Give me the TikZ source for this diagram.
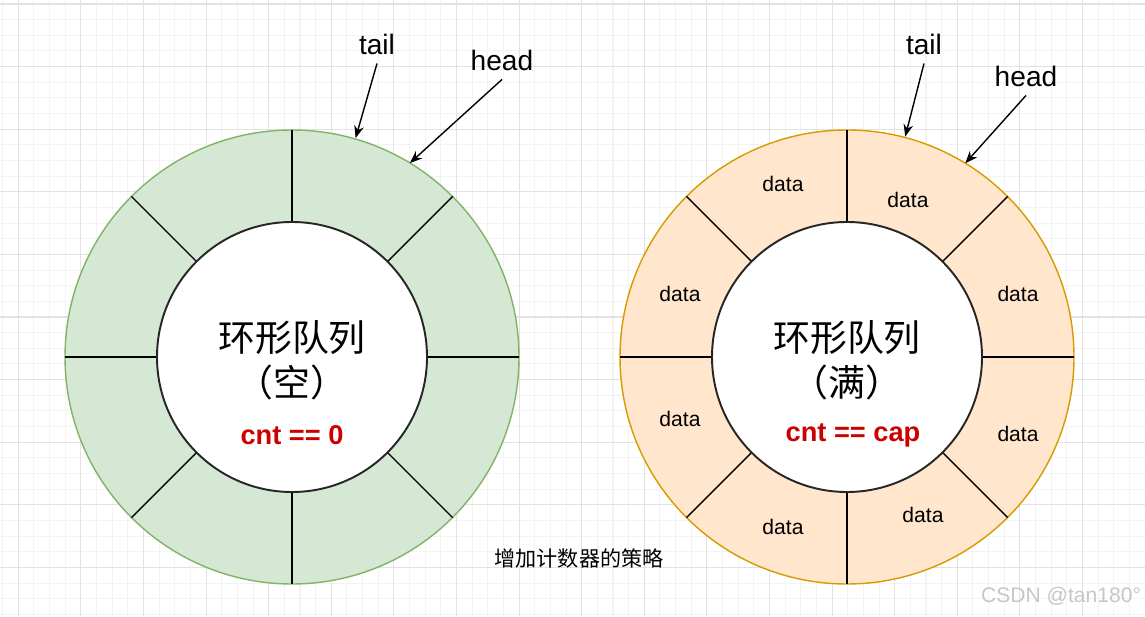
\documentclass[tikz,border=0pt]{standalone}
\usepackage{fontspec}
\setmainfont{Liberation Sans}
\newfontfamily\cjk{Noto Sans CJK SC}
\usepackage{tikz}
\usetikzlibrary{arrows.meta,calc}
\definecolor{gridmajor}{RGB}{226,226,226}
\definecolor{gridminor}{RGB}{243,243,243}
\definecolor{greenfill}{HTML}{D5E8D4}
\definecolor{greenline}{HTML}{82B366}
\definecolor{orangefill}{HTML}{FFE6CC}
\definecolor{orangeline}{HTML}{D79B00}
\definecolor{cntred}{HTML}{CC0000}

\begin{document}
\begin{tikzpicture}[x=0.02cm, y=0.02cm,
    spoke/.style={black, line width=0.8pt},
    hole/.style={fill=white, draw=black!85, line width=1.1pt},
    title/.style={font=\cjk\fontsize{21}{25.5}\selectfont, align=center},
    cond/.style={font=\fontsize{15.5}{18}\selectfont\bfseries, text=cntred},
    ptr/.style={font=\fontsize{16}{19}\selectfont, inner sep=5pt},
    ptrarrow/.style={-{Stealth[length=7pt, width=5.5pt]}, line width=0.8pt},
    slot/.style={font=\fontsize{12}{14}\selectfont}
]
    \useasboundingbox (0,0) rectangle (1145,616);
    \fill[white] (0,0) rectangle (1145,616);
    % grid
    \foreach \i in {0,...,73} {
        \draw[gridminor, line width=0.6pt] ({2.65+15.65*\i},0) -- ++(0,616);
        \draw[gridminor, line width=0.6pt] (0,{612-15.65*\i}) -- ++(1145,0);
    }
    \foreach \i in {0,...,18} {
        \draw[gridmajor, line width=0.6pt] ({18.3+62.6*\i},0) -- ++(0,616);
        \draw[gridmajor, line width=0.6pt] (0,{612-62.6*\i}) -- ++(1145,0);
    }

    \coordinate (lc) at (292,259);
    \coordinate (rc) at (847,259);

    % empty queue
    \filldraw[fill=greenfill, draw=greenline, line width=0.8pt] (lc) circle (227);
    \foreach \a in {0,45,...,315}
        \draw[spoke] ($(lc)+(\a:135)$) -- ($(lc)+(\a:227)$);
    \draw[hole] (lc) circle (135);
    \node[title] (ltitle) at (292,256) {环形队列\\（空）};
    \node[cond] (lcnt) at (292,181) {cnt == 0};

    % full queue
    \filldraw[fill=orangefill, draw=orangeline, line width=0.8pt] (rc) circle (227);
    \foreach \a in {0,45,...,315}
        \draw[spoke] ($(rc)+(\a:135)$) -- ($(rc)+(\a:227)$);
    \draw[hole] (rc) circle (135);
    \node[title] (rtitle) at (847,256) {环形队列\\（满）};
    \node[cond] (rcnt) at (853,181) {cnt == cap};
    \node[slot] (d1) at (783,432) {data};
    \node[slot] (d2) at (908,416) {data};
    \node[slot] (d3) at (1018,322) {data};
    \node[slot] (d4) at (1018,182) {data};
    \node[slot] (d5) at (923,101) {data};
    \node[slot] (d6) at (783,89) {data};
    \node[slot] (d7) at (680,197) {data};
    \node[slot] (d8) at (680,322) {data};

    % pointers
    \node[ptr] (ltail) at (377,572) {tail};
    \node[ptr] (lhead) at (502,556) {head};
    \node[ptr] (rtail) at (924,572) {tail};
    \node[ptr] (rhead) at (1026,540) {head};
    \coordinate (ltailpt) at ($(lc)+(73.8:228)$);
    \coordinate (lheadpt) at ($(lc)+(58.7:227)$);
    \coordinate (rtailpt) at ($(rc)+(75.2:228)$);
    \coordinate (rheadpt) at ($(rc)+(58.6:227)$);
    \draw[ptrarrow] (ltail.south) -- (ltailpt);
    \draw[ptrarrow] (lhead.south) -- (lheadpt);
    \draw[ptrarrow] (rtail.south) -- (rtailpt);
    \draw[ptrarrow] (rhead.south) -- (rheadpt);

    \node[font=\cjk\fontsize{12}{14}\selectfont] (caption) at (579,58) {增加计数器的策略};
    \node[font=\fontsize{12}{14}\selectfont, text=black!22] (mark) at (1061,20) {CSDN @tan180°};
\end{tikzpicture}
\end{document}
